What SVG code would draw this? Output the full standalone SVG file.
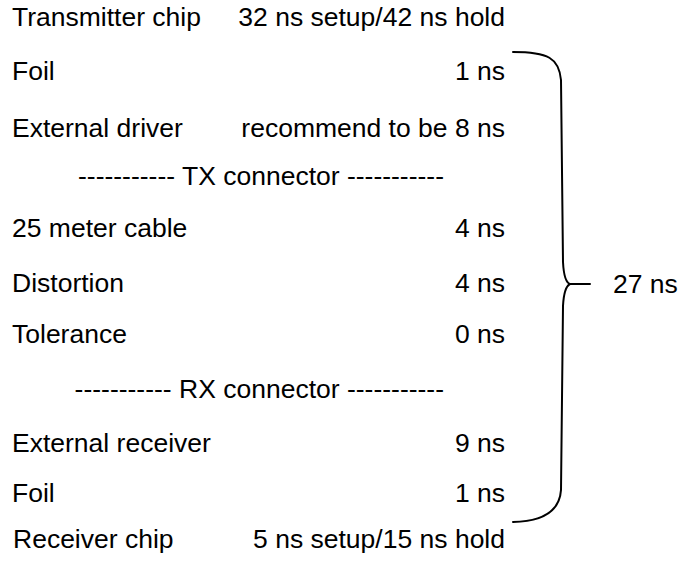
<svg xmlns="http://www.w3.org/2000/svg" width="679" height="562" viewBox="0 0 679 562">
<style>
text{font-family:"Liberation Sans",Arial,sans-serif;font-size:26.5px;fill:#000}
.r{text-anchor:end}
.brace{fill:none;stroke:#000;stroke-width:2;stroke-linecap:round;stroke-linejoin:round}
</style>
<rect width="679" height="562" fill="#fff"/>
<g id="row-transmitter"><text x="12" y="26">Transmitter chip</text><text class="r" x="505" y="26">32 ns setup/42 ns hold</text></g>
<g id="row-foil-tx"><text x="12" y="80">Foil</text><text class="r" x="505" y="80">1 ns</text></g>
<g id="row-driver"><text x="12" y="137">External driver</text><text class="r" x="505" y="137">recommend to be 8 ns</text></g>
<g id="row-tx-connector"><text class="r" x="444" y="185">----------- TX connector -----------</text></g>
<g id="row-cable"><text x="12" y="237">25 meter cable</text><text class="r" x="505" y="237">4 ns</text></g>
<g id="row-distortion"><text x="12" y="292">Distortion</text><text class="r" x="505" y="292">4 ns</text></g>
<g id="row-tolerance"><text x="12" y="343">Tolerance</text><text class="r" x="505" y="343">0 ns</text></g>
<g id="row-rx-connector"><text class="r" x="444" y="398">----------- RX connector -----------</text></g>
<g id="row-receiver-ext"><text x="12" y="452">External receiver</text><text class="r" x="505" y="452">9 ns</text></g>
<g id="row-foil-rx"><text x="12" y="502">Foil</text><text class="r" x="505" y="502">1 ns</text></g>
<g id="row-receiver"><text x="13" y="548">Receiver chip</text><text class="r" x="505" y="548">5 ns setup/15 ns hold</text></g>
<g id="connectors">
<path class="brace" d="M513 52 C548 52 559 58 561 80 L563 262 Q564 282 570 284 L590 284 M570 284 Q564 287 563 306 L561 490 Q559 521 513 522"/>
</g>
<g id="total"><text x="613" y="293">27 ns</text></g>
</svg>
